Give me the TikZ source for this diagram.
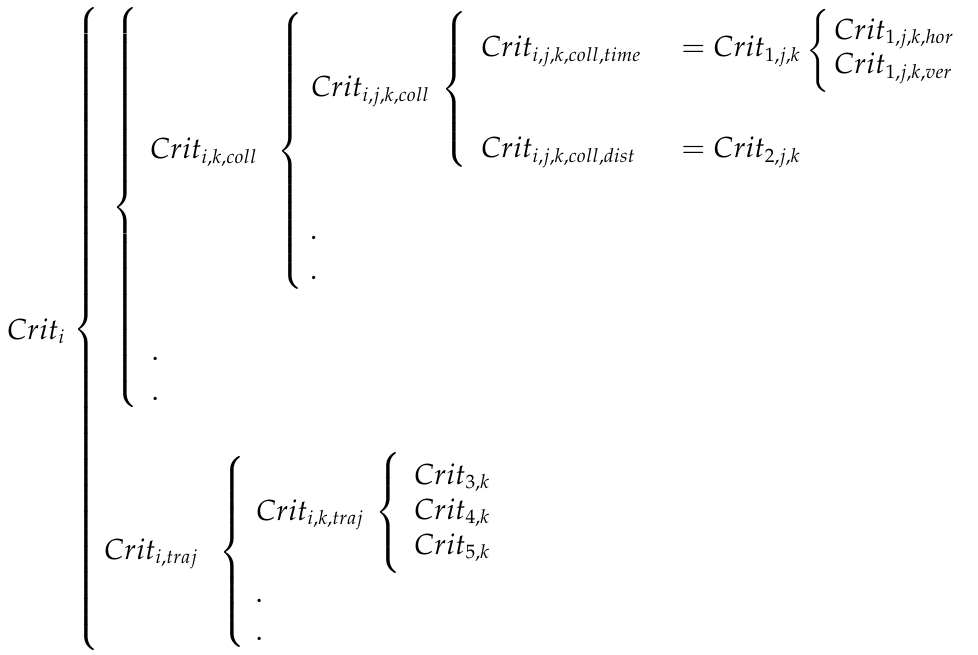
\documentclass[tikz,border=0pt]{standalone}
\usepackage{mathpazo}
\usepackage{graphicx}
\DeclareMathSizes{29}{29}{19.33}{14.5}
\delimitershortfall=0pt
\delimiterfactor=1000
\newcommand{\lbr}[1]{\resizebox*{\width}{#1pt}{$\left\{\vcenter{\hrule height #1pt width 0pt}\right.$}}
\tikzset{
  txt/.style={anchor=base west, inner sep=0pt, font=\fontsize{29}{35}\selectfont},
  brc/.style={anchor=west, inner sep=0pt, font=\fontsize{29}{35}\selectfont}
}
\begin{document}
\begin{tikzpicture}[x=1pt,y=-1pt]
\useasboundingbox (0,0) rectangle (978,655);
% level 0
\node[txt] (c0) at (7,339) {$Crit_{i}$};
\node[brc] (b1) at (72.5,329.5) {\lbr{643}};
% level 1 (collision)
\node[brc] (b2) at (111.5,208) {\lbr{400}};
\node[txt] (c1) at (150,159) {$Crit_{i,k,coll}$};
\node[txt] (d1a) at (151.5,360) {$.$};
\node[txt] (d1b) at (151.5,400) {$.$};
% level 2
\node[brc] (b3) at (277,151) {\lbr{276}};
\node[txt] (c2) at (311,97) {$Crit_{i,j,k,coll}$};
\node[txt] (d2a) at (310,240) {$.$};
\node[txt] (d2b) at (310,280) {$.$};
% level 3
\node[brc] (b4) at (441,89.5) {\lbr{155}};
\node[txt] (c3a) at (481,57) {$Crit_{i,j,k,coll,time}$};
\node[txt] (c3b) at (481,158) {$Crit_{i,j,k,coll,dist}$};
\node[txt] (e1) at (681,57) {$=Crit_{1,j,k}$};
\node[txt] (e2) at (681,158) {$=Crit_{2,j,k}$};
% level 4
\node[brc] (b5) at (806,50.5) {\lbr{83}};
\node[txt] (h1) at (834,39.5) {$Crit_{1,j,k,hor}$};
\node[txt] (h2) at (834,74) {$Crit_{1,j,k,ver}$};
% trajectory
\node[txt] (t1) at (104,559) {$Crit_{i,traj}$};
\node[brc] (b6) at (219,552) {\lbr{190}};
\node[txt] (t2) at (256,520) {$Crit_{i,k,traj}$};
\node[txt] (d3a) at (255.5,602) {$.$};
\node[txt] (d3b) at (255.5,640) {$.$};
\node[brc] (b7) at (375,512.5) {\lbr{121}};
\node[txt] (t3) at (414,484) {$Crit_{3,k}$};
\node[txt] (t4) at (414,519) {$Crit_{4,k}$};
\node[txt] (t5) at (414,554) {$Crit_{5,k}$};
\end{tikzpicture}
\end{document}
